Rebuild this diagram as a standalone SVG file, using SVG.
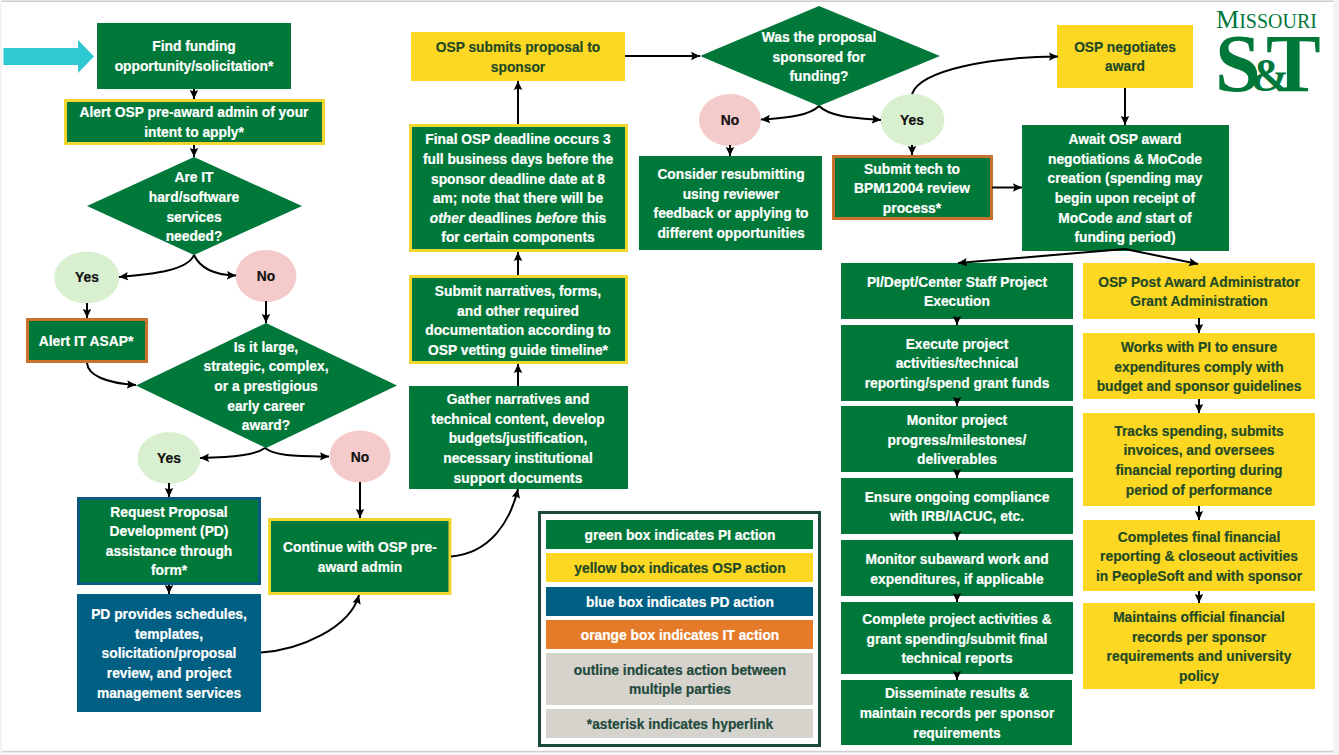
<svg xmlns="http://www.w3.org/2000/svg" width="1339" height="755" viewBox="0 0 1339 755">
<style>
text{font-family:"Liberation Sans",Arial,sans-serif;font-weight:700;font-size:13.8px;text-anchor:middle;stroke-width:.2px}
.w{fill:#fff;stroke:#fff}.d{fill:#1f4a24;stroke:#1f4a24}.k{fill:#111;stroke:#111}.g{fill:#1f4a3c;stroke:#1f4a3c}
.fg{fill:#00783a}.fy{fill:#fdd823}.fb{fill:#005f83}.fo{fill:#e57a28}.fs{fill:#d6d2cc}
.oy{stroke:#f2d52e;stroke-width:3}.oo{stroke:#c9722e;stroke-width:3}.ob{stroke:#0a5a80;stroke-width:3}
.yes{fill:#d9f0d0}.no{fill:#f4caca}
#connectors path{fill:none;stroke:#000;stroke-width:2;marker-end:url(#ah)}
#logo text{font-family:"Liberation Serif",serif;fill:#00783a;text-anchor:start;stroke:none}
</style>
<defs><marker id="ah" markerUnits="userSpaceOnUse" markerWidth="10" markerHeight="10" refX="9" refY="5" orient="auto"><path d="M0,0.8L9,5L0,9.2L1.5,5Z" fill="#000" stroke="none" style="marker-end:none"/></marker></defs>
<rect width="1339" height="755" fill="#f3f3f3"/>
<rect x="2" y="2" width="1331" height="749" fill="#fff"/>
<path d="M2 1.2H1333M2 751.5H1333" stroke="#cfcfcf" stroke-width="1.5" fill="none"/>
<polygon id="start-arrow" points="3.5,48 78,48 78,40 94,56.5 78,73 78,65 3.5,65" fill="#2ec9d3"/>

<g id="find"><rect class="fg" x="97" y="23" width="194" height="66"/><text class="w"><tspan x="194" y="51">Find funding</tspan><tspan x="194" y="71">opportunity/solicitation*</tspan></text></g>
<g id="alert-osp"><rect class="fg oy" x="65.5" y="100.5" width="258" height="43"/><text class="w"><tspan x="194" y="117">Alert OSP pre-award admin of your</tspan><tspan x="194" y="137">intent to apply*</tspan></text></g>
<g id="q-it"><polygon class="fg" points="194,157 302,206 194,255 87,206"/><text class="w"><tspan x="194" y="182">Are IT</tspan><tspan x="194" y="202">hard/software</tspan><tspan x="194" y="222">services</tspan><tspan x="194" y="241">needed?</tspan></text></g>
<g id="yes1"><ellipse class="yes" cx="86.7" cy="277.5" rx="32.5" ry="26"/><text class="k" x="87" y="282">Yes</text></g>
<g id="no1"><ellipse class="no" cx="266" cy="276" rx="30.5" ry="26"/><text class="k" x="266" y="281">No</text></g>
<g id="alert-it"><rect class="fg oo" x="27.5" y="319.5" width="119" height="42"/><text class="w" x="86" y="346">Alert IT ASAP*</text></g>
<g id="q-large"><polygon class="fg" points="266,323 397,385.5 266,448 136,385.5"/><text class="w"><tspan x="266" y="352">Is it large,</tspan><tspan x="266" y="371">strategic, complex,</tspan><tspan x="266" y="391">or a prestigious</tspan><tspan x="266" y="411">early career</tspan><tspan x="266" y="430">award?</tspan></text></g>
<g id="yes2"><ellipse class="yes" cx="169" cy="458" rx="31.5" ry="26"/><text class="k" x="169" y="463">Yes</text></g>
<g id="no2"><ellipse class="no" cx="360" cy="456.5" rx="30.5" ry="26"/><text class="k" x="360" y="462">No</text></g>
<g id="request-pd"><rect class="fg ob" x="78.500" y="498.500" width="181" height="85"/><text class="w"><tspan x="169" y="517">Request Proposal</tspan><tspan x="169" y="536">Development (PD)</tspan><tspan x="169" y="556">assistance through</tspan><tspan x="169" y="575">form*</tspan></text></g>
<g id="pd-provides"><rect class="fb" x="77" y="594" width="184" height="118"/><text class="w"><tspan x="169" y="619">PD provides schedules,</tspan><tspan x="169" y="639">templates,</tspan><tspan x="169" y="658">solicitation/proposal</tspan><tspan x="169" y="678">review, and project</tspan><tspan x="169" y="698">management services</tspan></text></g>
<g id="continue"><rect class="fg oy" x="269.500" y="519.500" width="180.500" height="74"/><text class="w"><tspan x="360" y="552">Continue with OSP pre-</tspan><tspan x="360" y="572">award admin</tspan></text></g>
<g id="gather"><rect class="fg" x="409" y="386" width="219" height="103"/><text class="w"><tspan x="518" y="404">Gather narratives and</tspan><tspan x="518" y="424">technical content, develop</tspan><tspan x="518" y="443">budgets/justification,</tspan><tspan x="518" y="463">necessary institutional</tspan><tspan x="518" y="483">support documents</tspan></text></g>
<g id="submit"><rect class="fg oy" x="410.500" y="276.500" width="216" height="86"/><text class="w"><tspan x="518" y="296">Submit narratives, forms,</tspan><tspan x="518" y="316">and other required</tspan><tspan x="518" y="335">documentation according to</tspan><tspan x="518" y="355">OSP vetting guide timeline*</tspan></text></g>
<g id="final"><rect class="fg oy" x="410.500" y="125.500" width="216" height="125"/><text class="w"><tspan x="518" y="144">Final OSP deadline occurs 3</tspan><tspan x="518" y="164">full business days before the</tspan><tspan x="518" y="184">sponsor deadline date at 8</tspan><tspan x="518" y="203">am; note that there will be</tspan><tspan x="518" y="223"><tspan font-style="italic">other</tspan> deadlines <tspan font-style="italic">before</tspan> this</tspan><tspan x="518" y="242">for certain components</tspan></text></g>
<g id="osp-submits"><rect class="fy" x="411" y="32" width="214" height="49"/><text class="d"><tspan x="518" y="52">OSP submits proposal to</tspan><tspan x="518" y="72">sponsor</tspan></text></g>
<g id="q-sponsored"><polygon class="fg" points="819,6 940,56 819,106 700,56"/><text class="w"><tspan x="819" y="42">Was the proposal</tspan><tspan x="819" y="62">sponsored for</tspan><tspan x="819" y="81">funding?</tspan></text></g>
<g id="no3"><ellipse class="no" cx="730" cy="120" rx="31" ry="26"/><text class="k" x="730" y="125">No</text></g>
<g id="consider"><rect class="fg" x="639" y="156" width="183" height="94"/><text class="w"><tspan x="731" y="179">Consider resubmitting</tspan><tspan x="731" y="199">using reviewer</tspan><tspan x="731" y="218">feedback or applying to</tspan><tspan x="731" y="238">different opportunities</tspan></text></g>
<g id="yes3"><ellipse class="yes" cx="912.500" cy="120" rx="32" ry="26"/><text class="k" x="912" y="125">Yes</text></g>
<g id="submit-tech"><rect class="fg oo" x="833.500" y="156.500" width="158" height="62"/><text class="w"><tspan x="912" y="174">Submit tech to</tspan><tspan x="912" y="193">BPM12004 review</tspan><tspan x="912" y="213">process*</tspan></text></g>
<g id="osp-negotiates"><rect class="fy" x="1057" y="25" width="136" height="63"/><text class="d"><tspan x="1125" y="52">OSP negotiates</tspan><tspan x="1125" y="71">award</tspan></text></g>
<g id="await"><rect class="fg" x="1022" y="125" width="207" height="126"/><text class="w"><tspan x="1125" y="144">Await OSP award</tspan><tspan x="1125" y="164">negotiations &amp; MoCode</tspan><tspan x="1125" y="183">creation (spending may</tspan><tspan x="1125" y="203">begin upon receipt of</tspan><tspan x="1125" y="223">MoCode <tspan font-style="italic">and</tspan> start of</tspan><tspan x="1125" y="242">funding period)</tspan></text></g>
<g id="pi-dept"><rect class="fg" x="841" y="263" width="232" height="56"/><text class="w"><tspan x="957" y="287">PI/Dept/Center Staff Project</tspan><tspan x="957" y="306">Execution</tspan></text></g>
<g id="execute"><rect class="fg" x="841" y="325" width="232" height="76"/><text class="w"><tspan x="957" y="349">Execute project</tspan><tspan x="957" y="368">activities/technical</tspan><tspan x="957" y="388">reporting/spend grant funds</tspan></text></g>
<g id="monitor"><rect class="fg" x="841" y="406" width="232" height="66"/><text class="w"><tspan x="957" y="425">Monitor project</tspan><tspan x="957" y="445">progress/milestones/</tspan><tspan x="957" y="464">deliverables</tspan></text></g>
<g id="ensure"><rect class="fg" x="841" y="478" width="232" height="56"/><text class="w"><tspan x="957" y="502">Ensure ongoing compliance</tspan><tspan x="957" y="521">with IRB/IACUC, etc.</tspan></text></g>
<g id="monitor-sub"><rect class="fg" x="841" y="540" width="232" height="56"/><text class="w"><tspan x="957" y="564">Monitor subaward work and</tspan><tspan x="957" y="584">expenditures, if applicable</tspan></text></g>
<g id="complete"><rect class="fg" x="841" y="602" width="232" height="72"/><text class="w"><tspan x="957" y="624">Complete project activities &amp;</tspan><tspan x="957" y="644">grant spending/submit final</tspan><tspan x="957" y="663">technical reports</tspan></text></g>
<g id="disseminate"><rect class="fg" x="841" y="680" width="231" height="65"/><text class="w"><tspan x="957" y="698">Disseminate results &amp;</tspan><tspan x="957" y="718">maintain records per sponsor</tspan><tspan x="957" y="738">requirements</tspan></text></g>
<g id="osp-post"><rect class="fy" x="1083" y="263" width="232" height="56"/><text class="d"><tspan x="1199" y="287">OSP Post Award Administrator</tspan><tspan x="1199" y="306">Grant Administration</tspan></text></g>
<g id="works"><rect class="fy" x="1083" y="333" width="232" height="66"/><text class="d"><tspan x="1199" y="352">Works with PI to ensure</tspan><tspan x="1199" y="372">expenditures comply with</tspan><tspan x="1199" y="391">budget and sponsor guidelines</tspan></text></g>
<g id="tracks"><rect class="fy" x="1083" y="413" width="232" height="93"/><text class="d"><tspan x="1199" y="436">Tracks spending, submits</tspan><tspan x="1199" y="455">invoices, and oversees</tspan><tspan x="1199" y="475">financial reporting during</tspan><tspan x="1199" y="495">period of performance</tspan></text></g>
<g id="completes"><rect class="fy" x="1083" y="520" width="232" height="71"/><text class="d"><tspan x="1199" y="542">Completes final financial</tspan><tspan x="1199" y="561">reporting &amp; closeout activities</tspan><tspan x="1199" y="581">in PeopleSoft and with sponsor</tspan></text></g>
<g id="maintains"><rect class="fy" x="1083" y="603" width="232" height="86"/><text class="d"><tspan x="1199" y="622">Maintains official financial</tspan><tspan x="1199" y="642">records per sponsor</tspan><tspan x="1199" y="661">requirements and university</tspan><tspan x="1199" y="681">policy</tspan></text></g>

<g id="legend">
<rect x="539.500" y="512.500" width="280" height="233" fill="#fff" stroke="#1c4a38" stroke-width="3"/>
<rect class="fg" x="546" y="520" width="267" height="29"/><text class="w" x="680" y="540">green box indicates PI action</text>
<rect class="fy" x="546" y="553" width="267" height="29"/><text class="d" x="680" y="573">yellow box indicates OSP action</text>
<rect class="fb" x="546" y="587" width="267" height="29"/><text class="w" x="680" y="607">blue box indicates PD action</text>
<rect class="fo" x="546" y="620" width="267" height="29"/><text class="w" x="680" y="640">orange box indicates IT action</text>
<rect class="fs" x="546" y="653" width="267" height="52"/><text class="g"><tspan x="680" y="675">outline indicates action between</tspan><tspan x="680" y="694">multiple parties</tspan></text>
<rect class="fs" x="546" y="709" width="267" height="29"/><text class="g" x="680" y="729">*asterisk indicates hyperlink</text>
</g>

<g id="logo">
<text x="1216" y="28" style="font-weight:400;font-size:20px">
<tspan font-size="26">M</tspan>ISSOURI</text>
<text y="91" style="font-weight:700;font-size:82px"><tspan x="1215">S</tspan><tspan x="1251" font-size="46">&amp;</tspan><tspan x="1266">T</tspan></text>
</g>

<g id="connectors">
<path d="M194 89V99"/><path d="M194 145V157"/>
<path d="M194 255C188 270 155 274 119 277"/><path d="M194 255C200 268 215 275 236 275.500"/>
<path d="M87 303V318"/><path d="M266 301V323"/>
<path d="M87 363C88 375 105 383 136 385"/>
<path d="M265 448C255 455 235 457 200 458"/><path d="M265 448C275 456 295 456 329 456.500"/>
<path d="M169 483V497"/><path d="M360 482V518"/><path d="M169 585V594"/>
<path d="M261 652.500C300 650 350 628 359 595"/>
<path d="M451 556.500C490 553 510 522 518 489"/>
<path d="M518 386V364"/><path d="M518 275V252"/><path d="M518 124V81"/>
<path d="M625 56H700"/>
<path d="M819 106C810 115 790 118 761 119.500"/><path d="M819 106C830 117 855 118 881 120"/>
<path d="M730 145V156"/><path d="M912 145V155"/>
<path d="M912 94C920 70 990 57 1058 56.500"/>
<path d="M1125 88V125"/><path d="M992 187.500H1022"/>
<path d="M1125 249L958 263"/><path d="M1125 249L1198 264"/>
<path d="M957 319V325"/><path d="M957 401V406"/><path d="M957 472V478"/><path d="M957 534V540"/><path d="M957 596V602"/><path d="M957 674V680"/>
<path d="M1199 318V333"/><path d="M1199 399V413"/><path d="M1199 506V520"/><path d="M1199 591V603"/>
</g>
</svg>
